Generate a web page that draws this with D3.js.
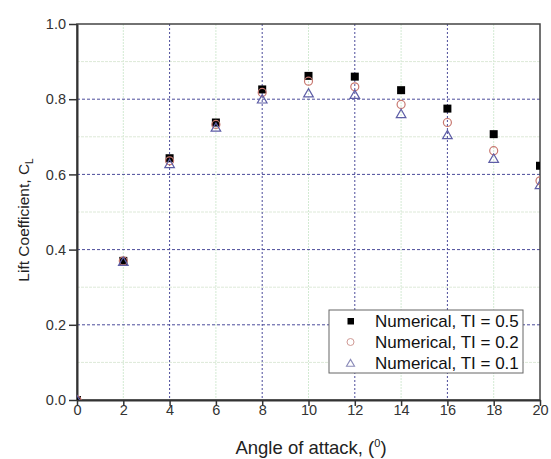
<!DOCTYPE html>
<html lang="en">
<head>
    <meta charset="utf-8">
    <script type="text/javascript" src="https://d3js.org/d3.v7.min.js"></script>
    <title>Lift Coefficient vs Angle of attack</title>
    <style>
        html, body { margin: 0; padding: 0; background: white; }
        svg { display: block; font-family: Arial, "Liberation Sans", sans-serif; }
    </style>
</head>
<body>
    <div id="chart"></div>

    <script type="text/javascript">

        // Data
        const angles  = [0, 2, 4, 6, 8, 10, 12, 14, 16, 18, 20];
        const ti05    = [0, 0.370, 0.643, 0.738, 0.826, 0.862, 0.860, 0.824, 0.775, 0.707, 0.623];
        const ti02    = [0, 0.370, 0.636, 0.733, 0.818, 0.848, 0.833, 0.786, 0.738, 0.663, 0.583];
        const ti01    = [0, 0.368, 0.628, 0.725, 0.800, 0.816, 0.812, 0.761, 0.705, 0.642, 0.572];
        const seriesNames = ["Numerical, TI = 0.5", "Numerical, TI = 0.2", "Numerical, TI = 0.1"];
        const xTicks = [0, 2, 4, 6, 8, 10, 12, 14, 16, 18, 20];
        const yTicks = [0.0, 0.2, 0.4, 0.6, 0.8, 1.0];

        const W = 551, H = 459;
        const margin = {top: 24, right: 11, bottom: 59, left: 77};
        const width = W - margin.left - margin.right,
              height = H - margin.top - margin.bottom;

        const svg = d3.select("#chart").append("svg")
            .attr("width", W).attr("height", H);
        const g = svg.append("g").attr("transform", `translate(${margin.left},${margin.top})`);

        svg.append("defs").append("clipPath").attr("id", "plotclip")
            .append("rect").attr("width", width).attr("height", height);

        const x = d3.scaleLinear().domain([0, 20]).range([0, width]);
        const y = d3.scaleLinear().domain([0, 1]).range([height, 0]);

        // minor grid (light green)
        const minorX = [2, 6, 10, 14, 18];
        const minorY = [0.1, 0.3, 0.5, 0.7, 0.9];
        g.selectAll(".mgx").data(minorX).join("line")
            .attr("x1", d => x(d)).attr("x2", d => x(d))
            .attr("y1", 0).attr("y2", height)
            .attr("stroke", "#d3ead3").attr("stroke-width", 1).attr("stroke-dasharray", "2,1");
        g.selectAll(".mgy").data(minorY).join("line")
            .attr("x1", 0).attr("x2", width)
            .attr("y1", d => y(d)).attr("y2", d => y(d))
            .attr("stroke", "#dde9d8").attr("stroke-width", 1).attr("stroke-dasharray", "3,1");

        // major grid (dark blue dotted)
        const majorX = [4, 8, 12, 16];
        const majorY = [0.2, 0.4, 0.6, 0.8];
        g.selectAll(".gx").data(majorX).join("line")
            .attr("x1", d => x(d)).attr("x2", d => x(d))
            .attr("y1", 0).attr("y2", height)
            .attr("stroke", "#4a4a9a").attr("stroke-width", 1).attr("stroke-dasharray", "2,2");
        g.selectAll(".gy").data(majorY).join("line")
            .attr("x1", 0).attr("x2", width)
            .attr("y1", d => y(d)).attr("y2", d => y(d))
            .attr("stroke", "#4a4a9a").attr("stroke-width", 1).attr("stroke-dasharray", "3,2");

        // frame
        g.append("rect").attr("x", 0).attr("y", 0).attr("width", width).attr("height", height)
            .attr("fill", "none").attr("stroke", "#444").attr("stroke-width", 1.5);

        // axes
        const xAxis = g.append("g").attr("transform", `translate(0,${height})`)
            .call(d3.axisBottom(x).tickValues(xTicks).tickFormat(d3.format("d")).tickSize(6).tickSizeOuter(0));
        const yAxis = g.append("g")
            .call(d3.axisLeft(y).tickValues(yTicks).tickFormat(d3.format(".1f")).tickSize(8).tickSizeOuter(0));
        [xAxis, yAxis].forEach(a => {
            a.select(".domain").attr("stroke", "#333").attr("stroke-width", 2);
            a.selectAll(".tick line").attr("stroke", "#333").attr("stroke-width", 1.5);
            a.selectAll("text").attr("fill", "#333").style("font-size", "14.5px")
                .style("font-family", "Arial, 'Liberation Sans', sans-serif");
        });
        xAxis.selectAll("text").attr("y", 5);
        yAxis.selectAll("text").attr("x", -11);

        // markers
        const pts = s => angles.map((a, i) => ({a: a, v: s[i]}));
        const marks = g.append("g").attr("clip-path", "url(#plotclip)");
        marks.selectAll(".sq").data(pts(ti05)).join("rect")
            .attr("x", d => x(d.a) - 4).attr("y", d => y(d.v) - 4)
            .attr("width", 8).attr("height", 8).attr("fill", "#000");
        marks.selectAll(".ci").data(pts(ti02)).join("circle")
            .attr("cx", d => x(d.a)).attr("cy", d => y(d.v)).attr("r", 4)
            .attr("fill", "none").attr("stroke", "#c87870").attr("stroke-width", 1.2);
        const tri = d3.symbol().type(d3.symbolTriangle).size(40);
        marks.selectAll(".tr").data(pts(ti01)).join("path")
            .attr("transform", d => `translate(${x(d.a)},${y(d.v) + 1})`)
            .attr("d", tri).attr("fill", "none").attr("stroke", "#5e5ea6").attr("stroke-width", 1.2);

        // legend
        const leg = svg.append("g").attr("transform", "translate(329,310)");
        leg.append("rect").attr("width", 194).attr("height", 63)
            .attr("fill", "white").attr("stroke", "#666").attr("stroke-width", 1);
        const rows = [11, 32, 53];
        const tri2 = d3.symbol().type(d3.symbolTriangle).size(28);
        leg.append("rect").attr("x", 18.5).attr("y", rows[0] - 3).attr("width", 6.5).attr("height", 6.5).attr("fill", "#000");
        leg.append("circle").attr("cx", 21.5).attr("cy", rows[1]).attr("r", 3.5)
            .attr("fill", "none").attr("stroke", "#d09a95").attr("stroke-width", 1);
        leg.append("path").attr("transform", `translate(21.5,${rows[2] + 1})`)
            .attr("d", tri2).attr("fill", "none").attr("stroke", "#8a8ab8").attr("stroke-width", 1.1);
        leg.selectAll(".lt").data(seriesNames).join("text")
            .attr("x", 46).attr("y", (d, i) => rows[i]).attr("dy", "0.36em")
            .attr("fill", "#111").style("font-size", "17px").text(d => d);

        // axis titles
        const xt = svg.append("text").attr("x", 311).attr("y", 454)
            .attr("text-anchor", "middle").attr("fill", "#222").style("font-size", "18.5px");
        xt.append("tspan").text("Angle of attack, (");
        xt.append("tspan").attr("dy", -7).style("font-size", "11px").text("0");
        xt.append("tspan").attr("dy", 7).text(")");

        const yt = svg.append("text").attr("transform", "translate(29,220) rotate(-90)")
            .attr("text-anchor", "middle").attr("fill", "#222").style("font-size", "15.5px");
        yt.append("tspan").text("Lift Coefficient, C");
        yt.append("tspan").attr("dy", 4).style("font-size", "10px").text("L");

    </script>
</body>
</html>
